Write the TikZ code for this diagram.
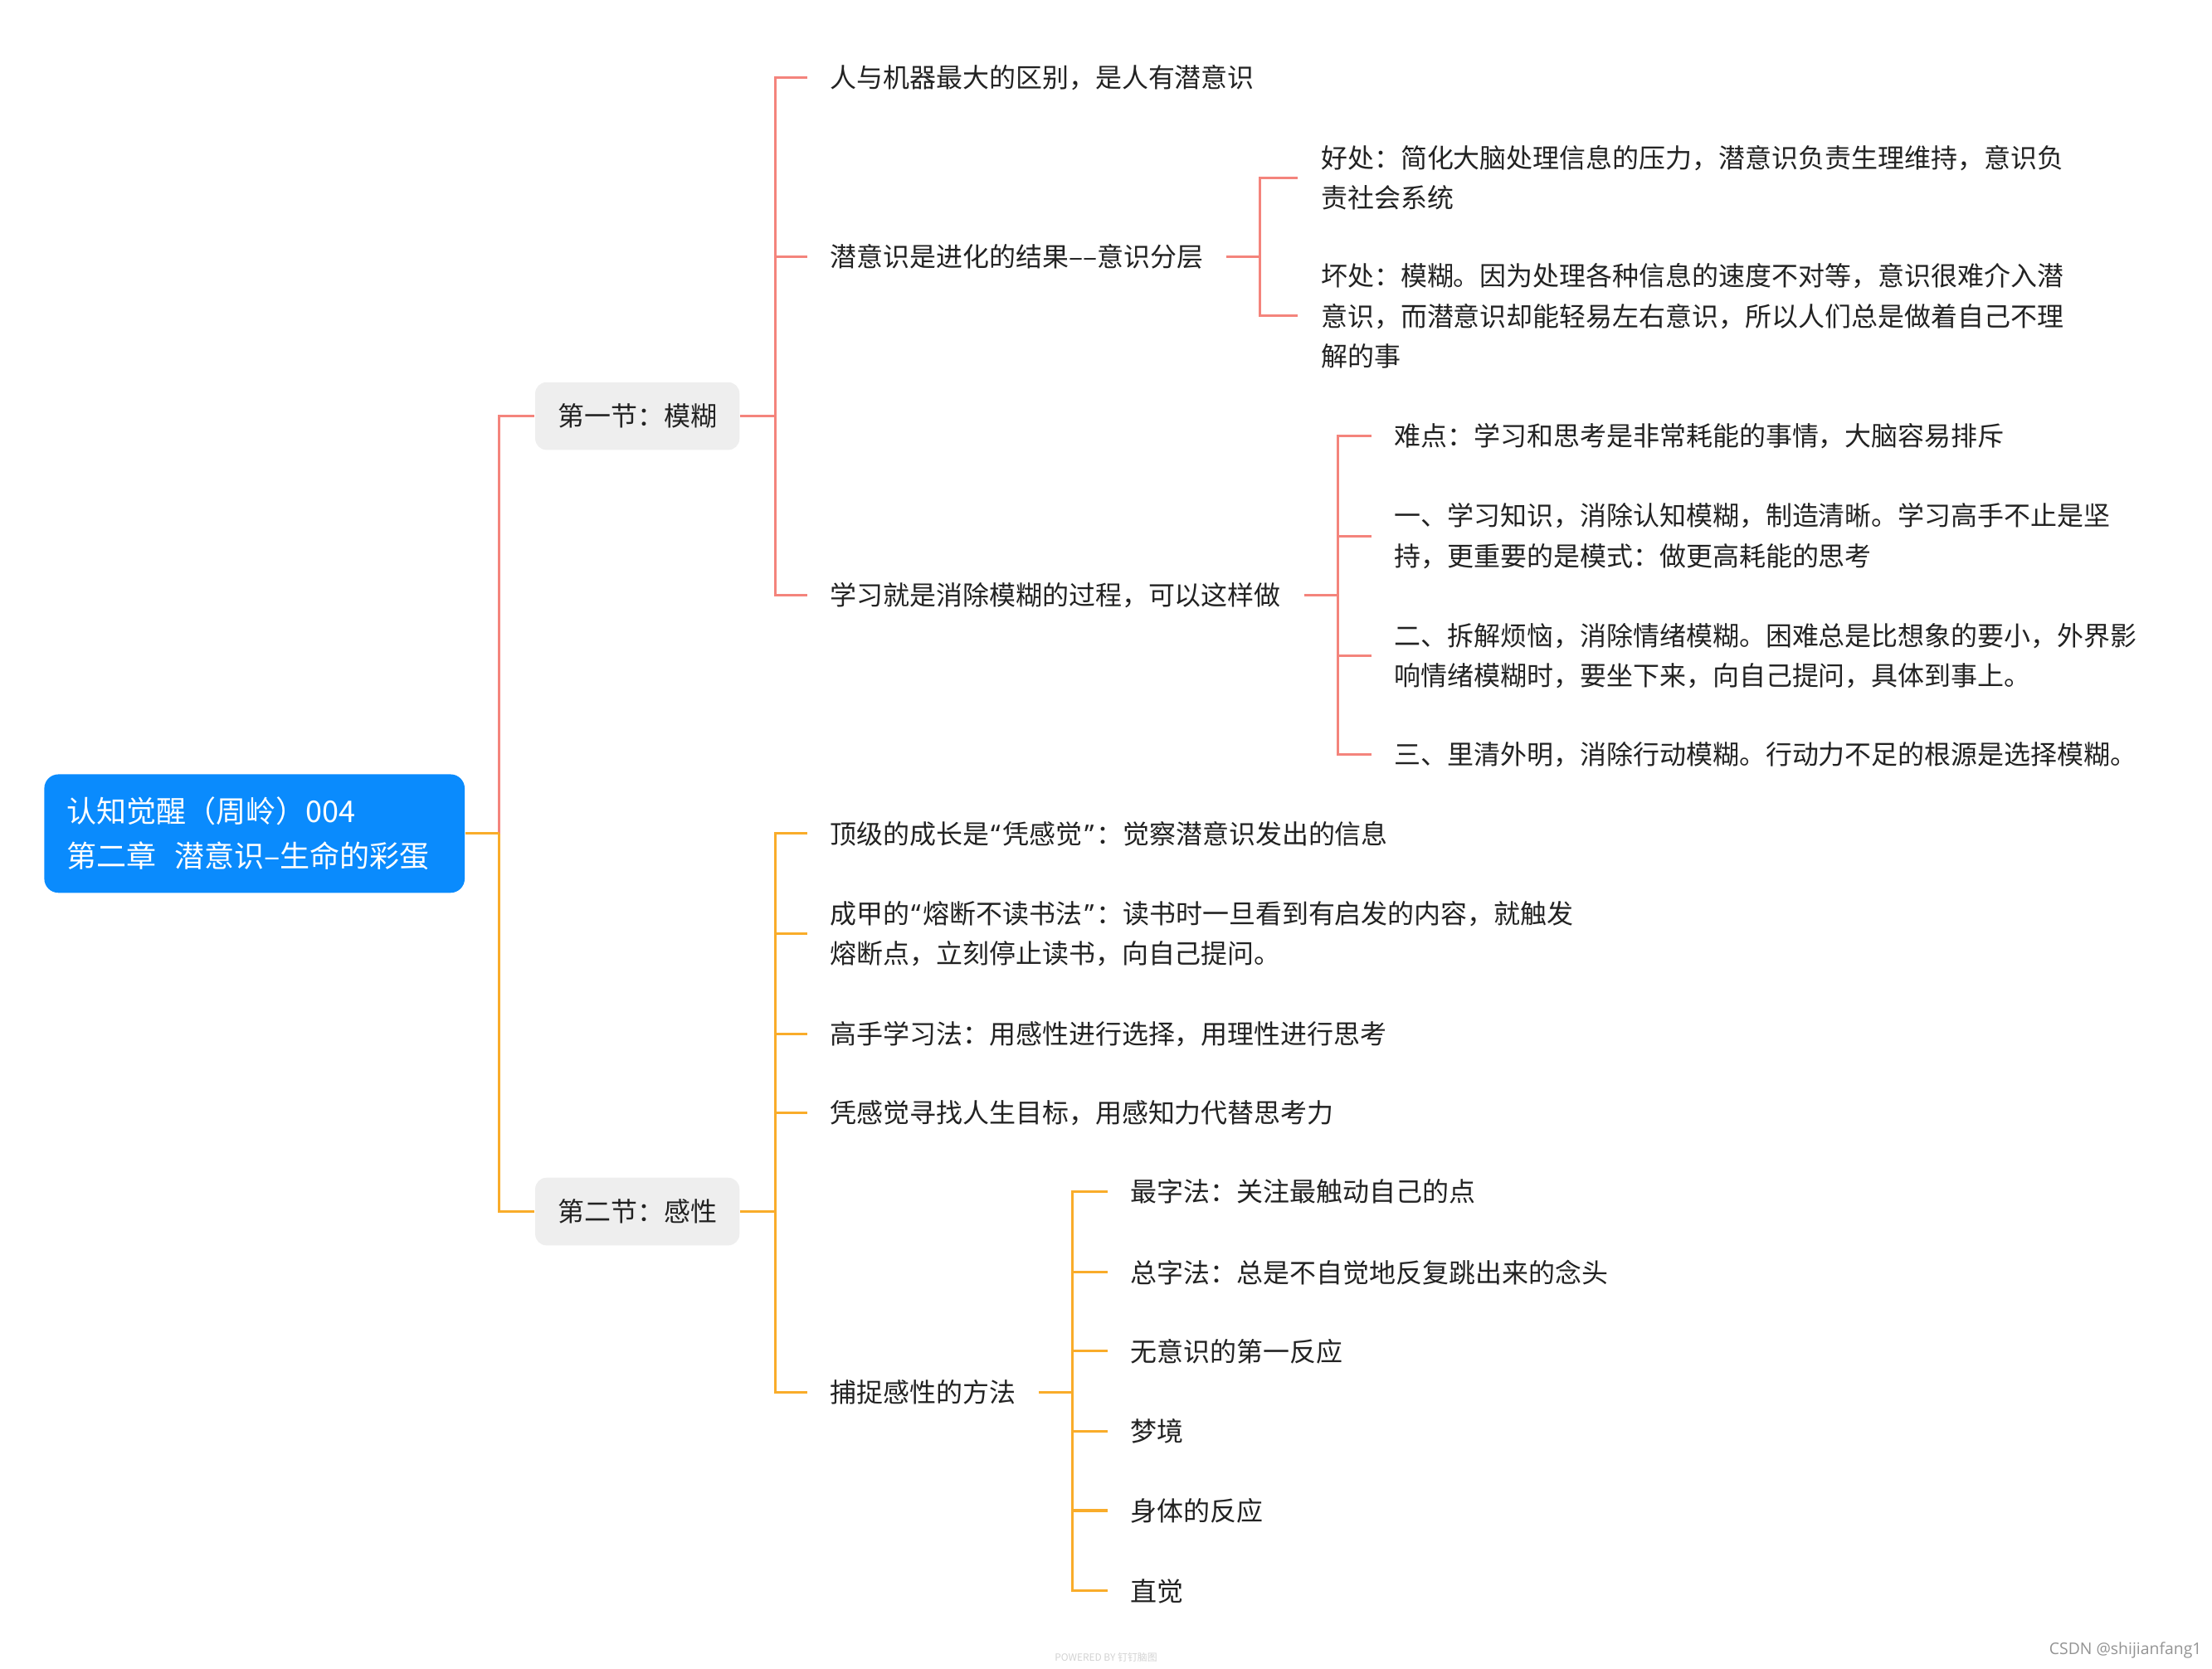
\documentclass[tikz,border=0pt]{standalone}
\usepackage{fontspec}
\setmainfont{Noto Sans CJK SC}
\newfontfamily\csdnfont{Open Sans}
\newfontfamily\qfont{Noto Sans}
\newcommand\myLq{{\hspace{0.08em}\qfont “\hspace{0.08em}}}
\newcommand\myRq{{\hspace{0.08em}\qfont ”\hspace{0.08em}}}
\definecolor{redl}{HTML}{F4847C}
\definecolor{orl}{HTML}{F9AC2A}
\definecolor{rootblue}{HTML}{0A8BFD}
\definecolor{secgray}{HTML}{EEEEEE}
\definecolor{txt}{HTML}{222222}
\newcommand\leaffont{\fontsize{9.4pt}{14.25pt}\selectfont}
\begin{document}
\begin{tikzpicture}[x=0.5pt,y=-0.5pt,
  leaf/.style={anchor=west, inner xsep=8pt, inner ysep=0pt, font=\leaffont, text=txt, align=left},
  sec/.style={anchor=west, fill=secgray, rounded corners=4pt, inner xsep=8pt, minimum height=24pt, font=\leaffont, text=txt},
  rootbox/.style={anchor=west, fill=rootblue, rounded corners=5pt, text=white, inner xsep=8pt, text width=133pt, minimum height=42pt, align=left, font=\fontsize{10.6pt}{16pt}\selectfont},
  rl/.style={draw=redl, line width=0.9pt},
  ol/.style={draw=orl, line width=0.9pt}]
\useasboundingbox (0,0) rectangle (1568,1183);

\node[rootbox] (root) at (31,591) {认知觉醒（周岭）004\\第二章\hspace{0.6em}潜意识–生命的彩蛋};

\node[sec] (s1) at (379,295) {第一节：模糊};
\node[sec] (s2) at (379,859) {第二节：感性};

% section 1
\node[leaf] (c11) at (572,55) {人与机器最大的区别，是人有潜意识};
\node[leaf] (c12) at (572,182) {潜意识是进化的结果––意识分层};
\node[leaf] (c13) at (572,422) {学习就是消除模糊的过程，可以这样做};

\node[leaf] (c121) at (920,126) {好处：简化大脑处理信息的压力，潜意识负责生理维持，意识负\\责社会系统};
\node[leaf] (c122) at (920,224) {坏处：模糊。因为处理各种信息的速度不对等，意识很难介入潜\\意识，而潜意识却能轻易左右意识，所以人们总是做着自己不理\\解的事};

\node[leaf] (c131) at (972,309) {难点：学习和思考是非常耗能的事情，大脑容易排斥};
\node[leaf] (c132) at (972,380) {一、学习知识，消除认知模糊，制造清晰。学习高手不止是坚\\持，更重要的是模式：做更高耗能的思考};
\node[leaf] (c133) at (972,465) {二、拆解烦恼，消除情绪模糊。困难总是比想象的要小，外界影\\响情绪模糊时，要坐下来，向自己提问，具体到事上。};
\node[leaf] (c134) at (972,535) {三、里清外明，消除行动模糊。行动力不足的根源是选择模糊。};

% section 2
\node[leaf] (c21) at (572,591) {顶级的成长是\myLq 凭感觉\myRq：觉察潜意识发出的信息};
\node[leaf] (c22) at (572,662) {成甲的\myLq 熔断不读书法\myRq：读书时一旦看到有启发的内容，就触发\\熔断点，立刻停止读书，向自己提问。};
\node[leaf] (c23) at (572,733) {高手学习法：用感性进行选择，用理性进行思考};
\node[leaf] (c24) at (572,789) {凭感觉寻找人生目标，用感知力代替思考力};
\node[leaf] (c25) at (572,987) {捕捉感性的方法};

\node[leaf] (c251) at (785,845) {最字法：关注最触动自己的点};
\node[leaf] (c252) at (785,902) {总字法：总是不自觉地反复跳出来的念头};
\node[leaf] (c253) at (785,958) {无意识的第一反应};
\node[leaf] (c254) at (785,1015) {梦境};
\node[leaf] (c255) at (785,1071) {身体的反应};
\node[leaf] (c256) at (785,1128) {直觉};

% connectors: root
\path (root.east) -- ++(24,0) coordinate (j0);
\draw[rl] (j0) |- (s1.west);
\draw[ol] (j0) |- (s2.west);
\draw[ol] (root.east) -- (j0);

% section 1
\draw[rl] (s1.east) -- ++(25,0) coordinate (j1);
\foreach \c in {c11,c12,c13} \draw[rl] (j1) |- (\c.west);
\draw[rl] (c12.east) -- ++(24,0) coordinate (j12);
\foreach \c in {c121,c122} \draw[rl] (j12) |- (\c.west);
\draw[rl] (c13.east) -- ++(24,0) coordinate (j13);
\foreach \c in {c131,c132,c133,c134} \draw[rl] (j13) |- (\c.west);

% section 2
\draw[ol] (s2.east) -- ++(25,0) coordinate (j2);
\foreach \c in {c21,c22,c23,c24,c25} \draw[ol] (j2) |- (\c.west);
\draw[ol] (c25.east) -- ++(24,0) coordinate (j25);
\foreach \c in {c251,c252,c253,c254,c255,c256} \draw[ol] (j25) |- (\c.west);

% watermarks
\node[font=\fontsize{3.5pt}{4pt}\selectfont, text=gray!35] (wm) at (784,1175) {POWERED BY 钉钉脑图};
\node[anchor=east, inner sep=0pt, font=\csdnfont\fontsize{5.7pt}{7pt}\selectfont, text=gray!85] (csdn) at (1561,1170) {CSDN @shijianfang1};
\end{tikzpicture}
\end{document}
